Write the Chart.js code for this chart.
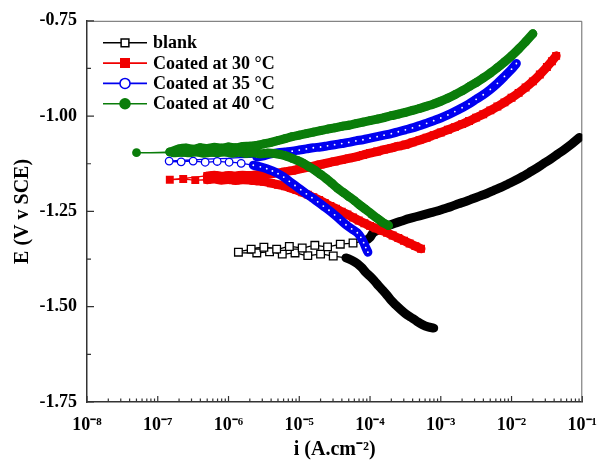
<!DOCTYPE html>
<html>
<head>
<meta charset="utf-8">
<script src="https://cdn.jsdelivr.net/npm/chart.js@4.4.1/dist/chart.umd.min.js"></script>
<style>
html,body{margin:0;padding:0;background:#fff;}
#wrap{width:610px;height:462px;}
</style>
</head>
<body>
<div id="wrap"><canvas id="c" width="610" height="462"></canvas></div>
<script>
const seriesLabels = ['blank', 'Coated at 30 °C', 'Coated at 35 °C', 'Coated at 40 °C'];
const xTickValues = [1e-8, 1e-7, 1e-6, 1e-5, 1e-4, 1e-3, 1e-2, 1e-1];
const xTickLabels = ['10⁻⁸', '10⁻⁷', '10⁻⁶', '10⁻⁵', '10⁻⁴', '10⁻³', '10⁻²', '10⁻¹'];
const yTickValues = [-1.75, -1.50, -1.25, -1.00, -0.75];
const yTickLabels = ['-1.75', '-1.50', '-1.25', '-1.00', '-0.75'];

// blank (current density A/cm2, potential V)
const blankCurrent = [
  7.94e-4, 6.61e-4, 5.50e-4, 4.57e-4, 3.80e-4, 3.16e-4, 2.69e-4, 2.29e-4, 2.00e-4, 1.74e-4,
  1.51e-4, 1.32e-4, 1.15e-4, 1.00e-4, 8.71e-5, 7.59e-5, 6.61e-5, 5.50e-5, 4.57e-5,
  3.02e-5, 2.00e-5, 1.32e-5, 8.71e-6, 5.75e-6, 3.80e-6, 2.51e-6, 1.38e-6,
  2.09e-6, 3.16e-6, 4.79e-6, 7.24e-6, 1.10e-5, 1.66e-5, 2.51e-5, 3.80e-5, 5.75e-5, 8.71e-5,
  1.00e-4, 1.12e-4, 1.41e-4, 1.78e-4, 2.24e-4, 2.82e-4, 3.55e-4, 4.47e-4, 5.62e-4, 7.08e-4,
  8.91e-4, 1.12e-3, 1.41e-3, 1.78e-3, 2.24e-3, 2.82e-3, 3.55e-3, 4.47e-3, 5.62e-3, 7.08e-3,
  8.91e-3, 1.12e-2, 1.41e-2, 1.78e-2, 2.24e-2, 2.82e-2, 3.55e-2, 4.47e-2, 5.62e-2, 7.08e-2, 9.12e-2
];
const blankPotential = [
  -1.556, -1.553, -1.547, -1.538, -1.528, -1.518, -1.507, -1.495, -1.484, -1.470,
  -1.457, -1.445, -1.432, -1.420, -1.410, -1.397, -1.387, -1.378, -1.372,
  -1.367, -1.362, -1.366, -1.359, -1.362, -1.356, -1.359, -1.357,
  -1.349, -1.344, -1.349, -1.342, -1.346, -1.339, -1.343, -1.336, -1.333, -1.326,
  -1.318, -1.305, -1.296, -1.288, -1.281, -1.275, -1.269, -1.264, -1.259, -1.254,
  -1.249, -1.243, -1.237, -1.230, -1.224, -1.217, -1.210, -1.203, -1.195, -1.187,
  -1.178, -1.169, -1.159, -1.148, -1.137, -1.125, -1.113, -1.100, -1.087, -1.073, -1.056
];

// coated at 30 °C
const c30Current = [
  5.25e-4, 4.37e-4, 3.63e-4, 3.02e-4, 2.51e-4, 2.09e-4, 1.74e-4, 1.45e-4, 1.20e-4, 1.00e-4,
  8.32e-5, 6.92e-5, 5.75e-5, 4.79e-5, 3.98e-5, 3.31e-5, 2.75e-5, 2.29e-5, 1.91e-5, 1.58e-5,
  1.32e-5, 1.10e-5, 9.12e-6, 7.59e-6, 6.31e-6, 5.01e-6, 3.98e-6, 3.16e-6, 2.51e-6, 2.00e-6,
  1.58e-6, 1.26e-6, 1.00e-6, 7.94e-7, 6.31e-7, 5.01e-7,
  3.39e-7, 2.29e-7, 1.48e-7,
  5.01e-7, 6.31e-7, 7.94e-7, 1.00e-6, 1.26e-6, 1.58e-6, 2.00e-6, 2.51e-6, 3.16e-6, 3.98e-6,
  5.01e-6, 6.31e-6, 7.94e-6, 1.00e-5, 1.26e-5, 1.58e-5, 2.00e-5, 2.51e-5, 3.16e-5, 3.98e-5,
  5.01e-5, 6.31e-5, 7.94e-5, 1.00e-4, 1.26e-4, 1.58e-4, 2.00e-4, 2.51e-4, 3.16e-4, 3.98e-4,
  5.01e-4, 6.31e-4, 7.94e-4, 1.00e-3, 1.26e-3, 1.58e-3, 2.00e-3, 2.51e-3, 3.16e-3, 3.98e-3,
  5.01e-3, 6.31e-3, 7.94e-3, 1.00e-2, 1.26e-2, 1.58e-2, 2.00e-2, 2.51e-2, 3.16e-2, 3.72e-2, 4.27e-2
];
const c30Potential = [
  -1.348, -1.341, -1.334, -1.327, -1.320, -1.313, -1.306, -1.300, -1.294, -1.288,
  -1.281, -1.274, -1.266, -1.258, -1.251, -1.243, -1.236, -1.228, -1.220, -1.213,
  -1.206, -1.200, -1.194, -1.189, -1.184, -1.180, -1.176, -1.172, -1.170, -1.168,
  -1.167, -1.169, -1.166, -1.168, -1.165, -1.167,
  -1.168, -1.165, -1.167,
  -1.157, -1.155, -1.158, -1.156, -1.157, -1.155, -1.156, -1.154, -1.153, -1.151,
  -1.149, -1.146, -1.143, -1.139, -1.135, -1.131, -1.127, -1.123, -1.119, -1.115,
  -1.111, -1.107, -1.102, -1.097, -1.093, -1.088, -1.084, -1.079, -1.075, -1.069,
  -1.063, -1.057, -1.050, -1.043, -1.036, -1.029, -1.021, -1.013, -1.004, -0.995,
  -0.985, -0.975, -0.964, -0.952, -0.939, -0.925, -0.909, -0.891, -0.871, -0.856, -0.842
];

// coated at 35 °C
const c35Current = [
  9.33e-5, 8.71e-5, 8.13e-5, 7.41e-5, 6.61e-5, 5.50e-5, 4.57e-5, 3.80e-5, 3.16e-5, 2.63e-5,
  2.19e-5, 1.82e-5, 1.51e-5, 1.26e-5, 1.05e-5, 8.71e-6, 7.24e-6, 6.03e-6, 5.01e-6, 4.17e-6,
  3.47e-6, 2.82e-6, 2.24e-6,
  1.51e-6, 1.02e-6, 6.92e-7, 4.68e-7, 3.16e-7, 2.14e-7, 1.45e-7,
  2.51e-6, 3.16e-6, 3.98e-6, 5.01e-6, 6.31e-6, 7.94e-6, 1.00e-5, 1.26e-5, 1.58e-5, 2.00e-5,
  2.51e-5, 3.16e-5, 3.98e-5, 5.01e-5, 6.31e-5, 7.94e-5, 1.00e-4, 1.26e-4, 1.58e-4, 2.00e-4,
  2.51e-4, 3.16e-4, 3.98e-4, 5.01e-4, 6.31e-4, 7.94e-4, 1.00e-3, 1.26e-3, 1.58e-3, 2.00e-3,
  2.51e-3, 3.16e-3, 3.98e-3, 5.01e-3, 6.31e-3, 7.94e-3, 1.00e-2, 1.17e-2
];
const c35Potential = [
  -1.357, -1.345, -1.332, -1.318, -1.306, -1.296, -1.285, -1.272, -1.259, -1.247,
  -1.236, -1.225, -1.214, -1.204, -1.193, -1.182, -1.171, -1.160, -1.151, -1.144,
  -1.138, -1.133, -1.129,
  -1.124, -1.121, -1.119, -1.121, -1.118, -1.120, -1.118,
  -1.107, -1.104, -1.099, -1.096, -1.094, -1.092, -1.089, -1.086, -1.083, -1.081,
  -1.078, -1.075, -1.072, -1.069, -1.065, -1.062, -1.058, -1.054, -1.050, -1.046,
  -1.041, -1.036, -1.031, -1.025, -1.019, -1.012, -1.005, -0.997, -0.988, -0.978,
  -0.968, -0.956, -0.944, -0.930, -0.914, -0.896, -0.877, -0.862
];

// coated at 40 °C
const c40Current = [
  1.82e-4, 1.51e-4, 1.26e-4, 1.05e-4, 8.71e-5, 7.24e-5, 6.03e-5, 5.01e-5, 4.17e-5, 3.47e-5,
  2.88e-5, 2.40e-5, 2.00e-5, 1.66e-5, 1.38e-5, 1.15e-5, 9.55e-6, 7.94e-6, 6.61e-6, 5.50e-6,
  4.47e-6, 3.55e-6, 2.82e-6, 2.24e-6, 1.78e-6, 1.41e-6, 1.12e-6, 8.91e-7, 7.08e-7, 5.62e-7,
  4.47e-7, 3.55e-7, 2.82e-7, 2.24e-7, 1.66e-7,
  5.01e-8, 1.48e-7,
  2.00e-7, 2.51e-7, 3.16e-7, 3.98e-7, 5.01e-7, 6.31e-7, 7.94e-7, 1.00e-6, 1.26e-6, 1.58e-6,
  2.00e-6, 2.51e-6, 3.16e-6, 3.98e-6, 5.01e-6, 6.31e-6, 7.94e-6, 1.00e-5, 1.26e-5, 1.58e-5,
  2.00e-5, 2.51e-5, 3.16e-5, 3.98e-5, 5.01e-5, 6.31e-5, 7.94e-5, 1.00e-4, 1.26e-4, 1.58e-4,
  2.00e-4, 2.51e-4, 3.16e-4, 3.98e-4, 5.01e-4, 6.31e-4, 7.94e-4, 1.00e-3, 1.26e-3, 1.58e-3,
  2.00e-3, 2.51e-3, 3.16e-3, 3.98e-3, 5.01e-3, 6.31e-3, 7.94e-3, 1.00e-2, 1.26e-2, 1.58e-2, 2.00e-2
];
const c40Potential = [
  -1.287, -1.279, -1.268, -1.257, -1.245, -1.234, -1.222, -1.211, -1.200, -1.189,
  -1.176, -1.164, -1.153, -1.142, -1.133, -1.124, -1.117, -1.111, -1.105, -1.101,
  -1.098, -1.097, -1.099, -1.096, -1.098, -1.095, -1.097, -1.094, -1.096, -1.095,
  -1.097, -1.094, -1.096, -1.095, -1.096,
  -1.096, -1.094,
  -1.086, -1.084, -1.087, -1.083, -1.085, -1.082, -1.084, -1.081, -1.083, -1.080,
  -1.079, -1.077, -1.073, -1.069, -1.064, -1.059, -1.054, -1.050, -1.046, -1.042,
  -1.038, -1.034, -1.031, -1.027, -1.024, -1.020, -1.016, -1.012, -1.008, -1.004,
  -0.999, -0.995, -0.990, -0.985, -0.980, -0.974, -0.968, -0.961, -0.953, -0.944,
  -0.934, -0.923, -0.912, -0.900, -0.887, -0.873, -0.858, -0.842, -0.824, -0.805, -0.784
];

const currents = [blankCurrent, c30Current, c35Current, c40Current];
const potentials = [blankPotential, c30Potential, c35Potential, c40Potential];

const styles = [
  {color: '#000000', shape: 'rect',   open: true,  r: 5.4, rDense: 0,   legendR: 5.5, order: 4},
  {color: '#f00000', shape: 'rect',   open: false, r: 5.6, rDense: 5.6, legendR: 6.0, order: 3},
  {color: '#0000f0', shape: 'circle', open: true,  r: 3.8, rDense: 0.9, legendR: 5.0, order: 2},
  {color: '#0a7d0a', shape: 'circle', open: false, r: 4.4, rDense: 4.4, legendR: 5.0, order: 1}
];

const SPARSE_GAP = 11.5;
function isSparse(ctx) {
  if (ctx.dataIndex === undefined) return true;
  const chart = ctx.chart, xs = chart.scales.x, ys = chart.scales.y;
  if (!xs || !ys) return true;
  const d = chart.data.datasets[ctx.datasetIndex].data, i = ctx.dataIndex;
  const pix = k => [xs.getPixelForValue(d[k].x), ys.getPixelForValue(d[k].y)];
  const c = pix(i);
  let near = Infinity;
  [i - 1, i + 1].forEach(k => {
    if (k >= 0 && k < d.length) {
      const q = pix(k);
      near = Math.min(near, Math.hypot(q[0] - c[0], q[1] - c[1]));
    }
  });
  return near > SPARSE_GAP;
}

const datasets = seriesLabels.map((label, s) => {
  const st = styles[s];
  return {
    label,
    data: currents[s].map((x, i) => ({x, y: potentials[s][i]})),
    showLine: true,
    order: st.order,
    borderColor: st.color,
    borderWidth: 9,
    borderJoinStyle: 'round',
    borderCapStyle: 'round',
    tension: 0.3,
    pointStyle: st.shape,
    pointBorderColor: st.color,
    pointBackgroundColor: st.open ? '#ffffff' : st.color,
    pointRadius: ctx => (isSparse(ctx) ? st.r : st.rDense),
    pointBorderWidth: ctx => (st.open ? (isSparse(ctx) ? 1.3 : 0) : 0),
    segment: {
      borderWidth: ctx => (Math.hypot(ctx.p1.x - ctx.p0.x, ctx.p1.y - ctx.p0.y) > SPARSE_GAP ? 1.3 : 9)
    }
  };
});

const frame = {
  id: 'frame',
  beforeDatasetsDraw(chart) {
    const {ctx, chartArea: a, scales: {x, y}} = chart;
    ctx.save();
    ctx.strokeStyle = '#666';
    ctx.lineWidth = 1;
    ctx.beginPath();
    ctx.moveTo(a.left, a.top + 0.5);
    ctx.lineTo(a.right - 0.5, a.top + 0.5);
    ctx.lineTo(a.right - 0.5, a.bottom);
    ctx.stroke();
    ctx.strokeStyle = '#333';
    ctx.lineWidth = 1.2;
    ctx.beginPath();
    yTickValues.forEach((v, i) => {
      const py = y.getPixelForValue(v);
      ctx.moveTo(a.left, py); ctx.lineTo(a.left + 7, py);
      if (i < yTickValues.length - 1) {
        const pm = y.getPixelForValue((v + yTickValues[i + 1]) / 2);
        ctx.moveTo(a.left, pm); ctx.lineTo(a.left + 4, pm);
      }
    });
    xTickValues.forEach((v, i) => {
      const px = x.getPixelForValue(v);
      ctx.moveTo(px, a.bottom); ctx.lineTo(px, a.bottom - 6);
      if (i < xTickValues.length - 1) {
        for (let k = 2; k < 10; k++) {
          const pk = x.getPixelForValue(v * k);
          ctx.moveTo(pk, a.bottom); ctx.lineTo(pk, a.bottom - 3.5);
        }
      }
    });
    ctx.stroke();
    ctx.restore();
  }
};

const insideLegend = {
  id: 'insideLegend',
  afterDraw(chart) {
    const {ctx, chartArea: a} = chart;
    ctx.save();
    chart.data.datasets.forEach((ds, i) => {
      const st = styles[i];
      const cy = a.top + 22 + i * 20.3;
      const x0 = a.left + 16, x1 = a.left + 60, mx = (x0 + x1) / 2;
      ctx.strokeStyle = st.color;
      ctx.lineWidth = 1.6;
      ctx.beginPath(); ctx.moveTo(x0, cy); ctx.lineTo(x1, cy); ctx.stroke();
      ctx.fillStyle = st.open ? '#ffffff' : st.color;
      ctx.lineWidth = 1.5;
      ctx.beginPath();
      if (st.shape === 'rect') {
        const h = st.legendR * Math.SQRT1_2;
        ctx.rect(mx - h, cy - h, 2 * h, 2 * h);
      } else {
        ctx.arc(mx, cy, st.legendR, 0, Math.PI * 2);
      }
      ctx.fill(); ctx.stroke();
      ctx.fillStyle = '#000';
      ctx.font = 'bold 18px "Liberation Serif", "Times New Roman", serif';
      ctx.textBaseline = 'middle';
      ctx.textAlign = 'left';
      ctx.fillText(ds.label, a.left + 66, cy + 1);
    });
    ctx.restore();
  }
};

const serif = '"Liberation Serif", "Times New Roman", serif';

new Chart(document.getElementById('c'), {
  type: 'scatter',
  data: {datasets},
  plugins: [frame, insideLegend],
  options: {
    responsive: false,
    animation: false,
    devicePixelRatio: 1,
    layout: {padding: {top: 20, right: 14, left: 0, bottom: 0}},
    plugins: {legend: {display: false}, tooltip: {enabled: false}},
    scales: {
      x: {
        type: 'logarithmic',
        position: 'bottom',
        min: 1e-8,
        max: 1e-1,
        afterBuildTicks: s => { s.ticks = xTickValues.map(v => ({value: v})); },
        afterFit: s => { s.height = 60; },
        grid: {display: false, drawTicks: false},
        border: {display: true, color: '#333', width: 1.5},
        ticks: {
          padding: 13, color: '#000', autoSkip: false, maxRotation: 0,
          font: {family: serif, size: 18, weight: 'bold'},
          callback: (v, i) => xTickLabels[i]
        },
        title: {
          display: true, text: 'i (A.cm⁻²)', color: '#000',
          font: {family: serif, size: 20, weight: 'bold'},
          padding: {top: 0, bottom: 0}
        }
      },
      y: {
        type: 'linear',
        position: 'left',
        min: -1.75,
        max: -0.75,
        afterBuildTicks: s => { s.ticks = yTickValues.map(v => ({value: v})); },
        afterFit: s => { s.width = 87; },
        grid: {display: false, drawTicks: false},
        border: {display: true, color: '#333', width: 1.5},
        ticks: {
          padding: 10, color: '#000',
          font: {family: serif, size: 18, weight: 'bold'},
          callback: (v, i) => yTickLabels[i]
        },
        title: {
          display: true, text: 'E (V v SCE)', color: '#000',
          font: {family: serif, size: 20, weight: 'bold'},
          padding: {top: 11, bottom: 0}
        }
      }
    }
  }
});
</script>
</body>
</html>
